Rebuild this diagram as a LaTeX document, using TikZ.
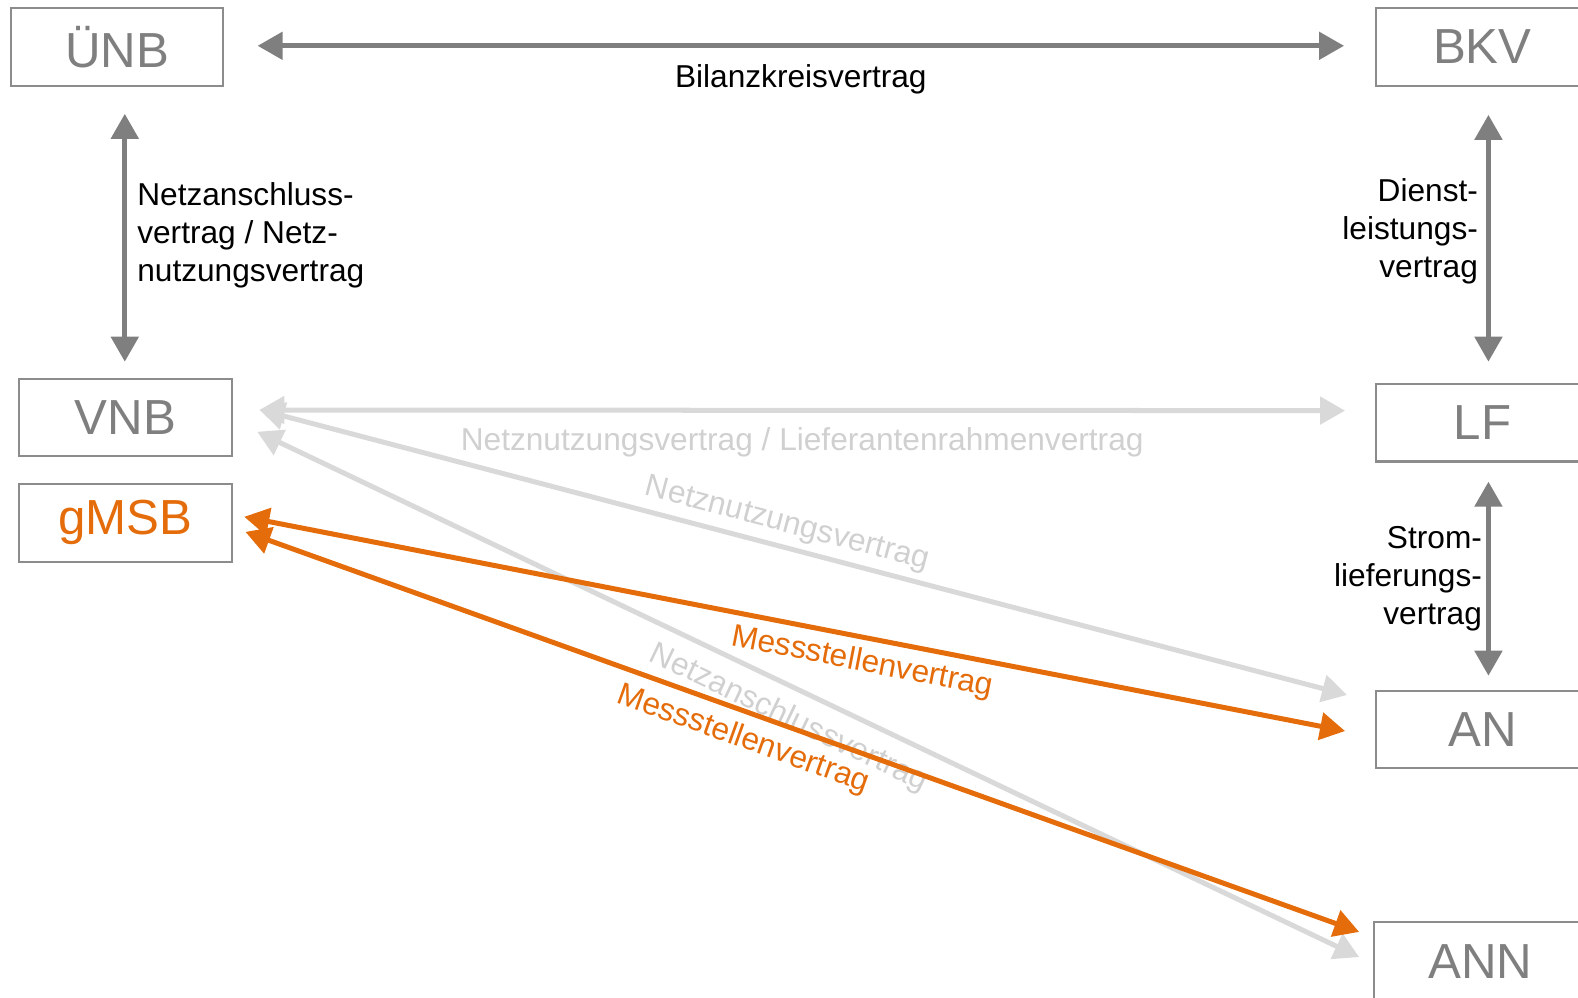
\documentclass[tikz,border=0pt]{standalone}
\usepackage{fontspec}
\setmainfont{Liberation Sans}
\usetikzlibrary{arrows.meta,calc}

\definecolor{boxgrey}{HTML}{8C8C8C}
\definecolor{txtgrey}{HTML}{7F7F7F}
\definecolor{darkarr}{HTML}{7F7F7F}
\definecolor{lightarr}{HTML}{D9D9D9}
\definecolor{lighttxt}{HTML}{D0D0D0}
\definecolor{orangearr}{HTML}{E46C0A}

\tikzstyle{box} = [rectangle, minimum width=2.12cm, minimum height=0.775cm, text centered, draw=boxgrey, line width=0.6pt, text=txtgrey, font=\fontsize{14}{16}\selectfont]
\tikzstyle{lbl} = [font=\fontsize{9}{10.8}\selectfont, inner sep=0.1cm, text=black]
\tikzstyle{arrow-dk} = [line width=0.05cm, darkarr, {Triangle[length=0.25cm,width=0.27cm]}-{Triangle[length=0.25cm,width=0.27cm]}]
\tikzstyle{arrow-lt} = [arrow-dk, lightarr]
\tikzstyle{arrow-or} = [arrow-dk, orangearr]

\begin{document}
\begin{tikzpicture}[x=0.01006cm, y=-0.01006cm]
  \useasboundingbox (0,0) rectangle (1568,991);
  \node (unb) [box] at (116.5,46.5) {ÜNB};
  \node (bkv) [box] at (1473,46.5) {BKV};
  \node (vnb) [box] at (124.7,415) {VNB};
  \node (gmsb) [box, text=orangearr] at (124.7,519.5) {gMSB};
  \node (lf) [box] at (1473,420) {LF};
  \node (an) [box] at (1473,725) {AN};
  \node (ann) [box] at (1471,955) {ANN};

  \draw [arrow-dk] ($(unb.east)+(33,-1)$) -- ($(bkv.west)+(-31,-1)$)
    node (bilanz) [lbl, midway, below=0.06cm] {Bilanzkreisvertrag};
  \draw [arrow-dk] ($(unb.south)+(7.5,27)$) -- ($(vnb.north)+(-0.7,-16)$)
    node (netzan) [lbl, midway, right, align=left, yshift=0.02cm] {Netzanschluss-\\vertrag / Netz-\\nutzungsvertrag};
  \draw [arrow-dk] ($(bkv.south)+(6,28)$) -- ($(lf.north)+(6,-21)$)
    node (dienst) [lbl, midway, left, align=right, inner sep=0.08cm, yshift=0.07cm] {Dienst-\\leistungs-\\vertrag};
  \draw [arrow-dk] ($(lf.south)+(6,19)$) -- ($(an.north)+(6,-14)$)
    node (strom) [lbl, midway, left, align=right, inner sep=0.04cm] {Strom-\\lieferungs-\\vertrag};

  \draw [arrow-lt] ($(vnb.east)+(26.5,-7.6)$) -- ($(lf.west)+(-30,-12)$)
    node (lfrv) [lbl, midway, below=0.05cm, text=lighttxt] {Netznutzungsvertrag / Lieferantenrahmenvertrag};
  \draw [arrow-lt] ($(vnb.east)+(26.5,-8)$) -- ($(an.west)+(-28,-34.5)$)
    node (nnv) [lbl, pos=0.48, sloped, above, inner sep=0.06cm, text=lighttxt] {Netznutzungsvertrag};
  \draw [arrow-lt] ($(vnb.east)+(24.4,14)$) -- ($(ann.west)+(-14,-4)$)
    node (nav) [lbl, pos=0.494, sloped, below, inner sep=0.13cm, text=lighttxt] {Netzanschlussvertrag};
  \draw [arrow-or] ($(gmsb.east)+(11.5,-6)$) -- ($(an.west)+(-30,1.4)$)
    node (msv1) [lbl, pos=0.566, sloped, below, inner sep=0.08cm, text=orangearr] {Messstellenvertrag};
  \draw [arrow-or] ($(gmsb.east)+(12.7,9)$) -- ($(ann.west)+(-14,-29)$)
    node (msv2) [lbl, pos=0.455, sloped, below, inner sep=0.1cm, text=orangearr] {Messstellenvertrag};
\end{tikzpicture}
\end{document}
